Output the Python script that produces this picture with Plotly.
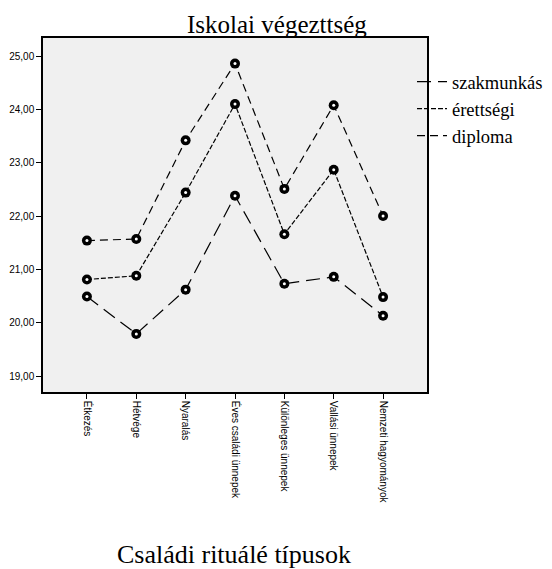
import plotly.graph_objects as go

# Családi rituálé típusok (x categories)
categories = ["Étkezés", "Hétvége", "Nyaralás", "Éves családi ünnepek",
              "Különleges ünnepek", "Vallási ünnepek", "Nemzeti hagyományok"]

# Mean values per education level
szakmunkas = [20.49, 19.79, 20.62, 22.38, 20.73, 20.86, 20.13]
erettsegi = [20.81, 20.88, 22.44, 24.10, 21.66, 22.87, 20.48]
diploma = [21.54, 21.57, 23.42, 24.86, 22.51, 24.08, 22.00]

series_names = ["szakmunkás", "érettségi", "diploma"]
dashes = ["14px,7px", "5px,2px", "8px,5px"]

y_ticks = [19, 20, 21, 22, 23, 24, 25]
y_ticktext = ["19,00", "20,00", "21,00", "22,00", "23,00", "24,00", "25,00"]

serif = "Liberation Serif, Times New Roman, serif"
sans = "Liberation Sans, Arial, sans-serif"

# page body has an 8px margin, so the figure is a bit smaller than the window
W, H = 544, 561

fig = go.Figure()

for name, vals, dash in zip(series_names, [szakmunkas, erettsegi, diploma], dashes):
    # line for legend + plot
    fig.add_trace(go.Scatter(
        x=categories, y=vals, name=name, mode="lines",
        line=dict(color="black", width=1.2, dash=dash),
    ))
    # black ring markers
    fig.add_trace(go.Scatter(
        x=categories, y=vals, mode="markers", showlegend=False, hoverinfo="skip",
        marker=dict(symbol="circle", size=10, color="black"),
    ))
    # tiny white centre
    fig.add_trace(go.Scatter(
        x=categories, y=vals, mode="markers", showlegend=False, hoverinfo="skip",
        marker=dict(symbol="circle", size=3, color="white"),
    ))

fig.update_layout(
    width=W, height=H,
    margin=dict(l=35, r=125, t=30, b=177, autoexpand=False),
    paper_bgcolor="white",
    plot_bgcolor="#f0f0f0",
    legend=dict(xref="container", yref="container",
                x=404 / W, y=1 - 55 / H, xanchor="left", yanchor="top",
                font=dict(family=serif, size=18.5, color="black"),
                bgcolor="rgba(0,0,0,0)", itemwidth=30, tracegroupgap=0),
    showlegend=True,
)

fig.update_xaxes(
    range=[-0.89, 6.89], showline=True, linecolor="black", linewidth=1.5,
    mirror=True, ticks="outside", ticklen=5, tickcolor="black",
    tickangle=90, tickfont=dict(family=sans, size=10, color="black"),
    showgrid=False, zeroline=False, automargin=False,
)
fig.update_yaxes(
    range=[18.7, 25.34], showline=True, linecolor="black", linewidth=1.5,
    mirror=True, ticks="outside", ticklen=5, tickcolor="black",
    tickvals=y_ticks, ticktext=y_ticktext,
    tickfont=dict(family=sans, size=10, color="black"),
    showgrid=False, zeroline=False, automargin=False,
)

# chart title
fig.add_annotation(
    text="Iskolai végezttség", xref="paper", yref="paper",
    x=(277 - 43) / 384, y=1 + 13 / 354, xanchor="center", yanchor="middle",
    showarrow=False, font=dict(family=serif, size=25, color="black"),
)
# x axis title
fig.add_annotation(
    text="Családi rituálé típusok", xref="paper", yref="paper",
    x=(234 - 43) / 384, y=-162 / 354, xanchor="center", yanchor="middle",
    showarrow=False, font=dict(family=serif, size=26, color="black"),
)

fig.write_html("out.html")
